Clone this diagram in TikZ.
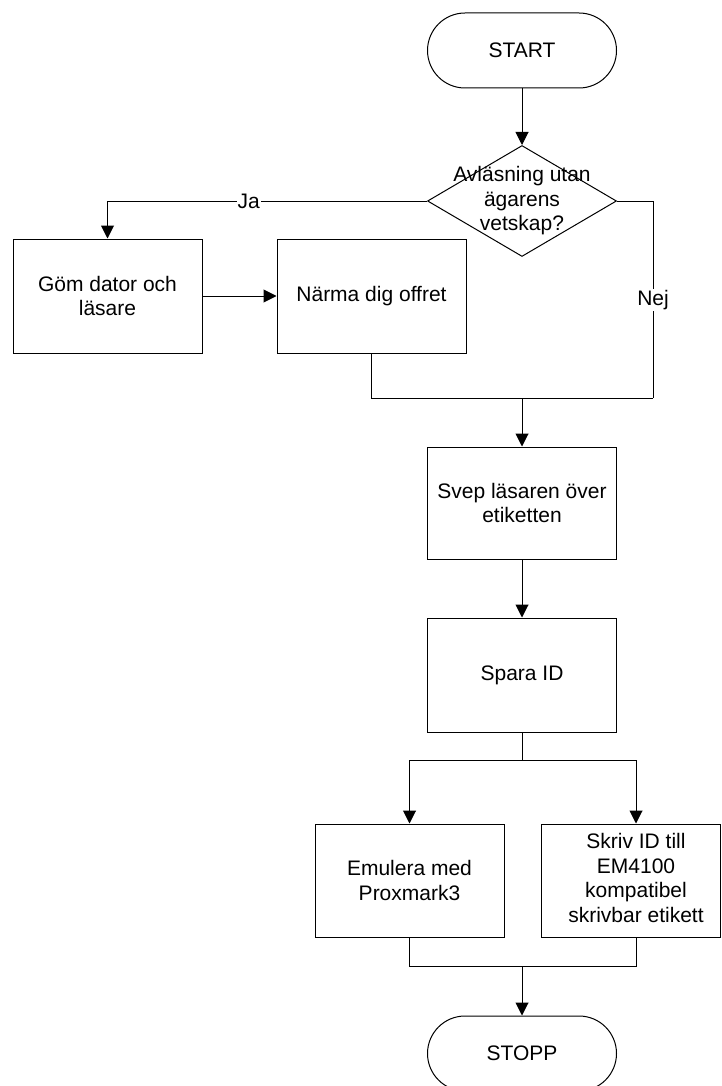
\documentclass[tikz,border=0pt]{standalone}
\usepackage{fontspec}
\setmainfont{Liberation Sans}
\usetikzlibrary{shapes.geometric,arrows.meta}

\begin{document}
\begin{tikzpicture}[x=1pt,y=-1pt,line width=1pt,
  every node/.style={font=\fontsize{21}{24.5}\selectfont},
  proc/.style={draw,rectangle,minimum width=189,minimum height=114,align=center,inner sep=2pt},
  term/.style={draw,rectangle,rounded corners=37.5pt,minimum width=189,minimum height=75},
  decision/.style={draw,diamond,minimum width=189,minimum height=111,inner sep=0pt},
  flow/.style={-{Triangle[length=13pt,width=13pt]}},
  tag/.style={fill=white,inner sep=1pt}]

\useasboundingbox (0,0) rectangle (721,1086);
\clip (0,0) rectangle (721,1086);

% nodes
\node[term] (start) at (522,50.5) {START};
\node[decision,label={[align=center]center:{Avläsning utan\\ägarens\\vetskap?}}] (ask) at (522,201) {};
\node[proc] (gom) at (107.5,296) {Göm dator och\\läsare};
\node[proc] (narma) at (371.5,296) {Närma dig offret};
\node[proc,minimum height=112] (svep) at (522,503) {Svep läsaren över\\etiketten};
\node[proc] (spara) at (522,675) {Spara ID};
\node[proc,minimum height=113] (emu) at (409.5,880.5) {Emulera med\\Proxmark3};
\node[proc,minimum width=179,minimum height=113] (skriv) at (630.5,880.5)
  {\begin{tabular}{@{\hspace{11pt}}c@{}}Skriv ID till\\EM4100\\kompatibel\\skrivbar etikett\end{tabular}};
\node[term] (stopp) at (522,1053.5) {STOPP};

% junction points
\coordinate (nejturn) at (653,398);
\coordinate (join1) at (522,398);
\coordinate (split) at (522,760);
\coordinate (join2) at (522,966);

% connectors
\draw[flow] (start) -- (ask);
\draw[flow] (ask.west) -| (gom.north) node[tag,pos=0.279] {Ja};
\draw (ask.east) -| (nejturn) node[tag,pos=0.751] {Nej};
\draw[flow] (gom) -- (narma);
\draw (narma.south) |- (nejturn);
\draw[flow] (join1) -- (svep);
\draw[flow] (svep) -- (spara);
\draw (spara) -- (split);
\draw[flow] (split) -| (emu.north);
\draw[flow] (split) -| ([xshift=5.5pt]skriv.north);
\draw (emu.south) |- (join2) -| ([xshift=5.5pt]skriv.south);
\draw[flow] (join2) -- (stopp);
\end{tikzpicture}
\end{document}
